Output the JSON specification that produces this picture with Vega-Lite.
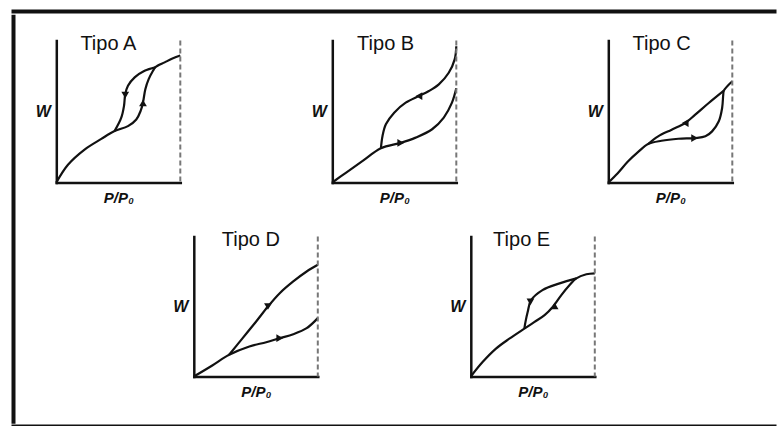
{
  "$schema": "https://vega.github.io/schema/vega-lite/v6.json",
  "padding": {"left": 11, "top": 9, "right": 0, "bottom": 0},
  "background": "white",
  "datasets": {
    "curves": [
      {"panel": "A", "branch": "ads", "i": 0, "x": 0, "y": 0},
      {"panel": "A", "branch": "ads", "i": 1, "x": 0.094, "y": 0.125},
      {"panel": "A", "branch": "ads", "i": 2, "x": 0.228, "y": 0.232},
      {"panel": "A", "branch": "ads", "i": 3, "x": 0.363, "y": 0.307},
      {"panel": "A", "branch": "ads", "i": 4, "x": 0.47, "y": 0.362},
      {"panel": "A", "branch": "ads", "i": 5, "x": 0.578, "y": 0.397},
      {"panel": "A", "branch": "ads", "i": 6, "x": 0.645, "y": 0.444},
      {"panel": "A", "branch": "ads", "i": 7, "x": 0.68, "y": 0.504},
      {"panel": "A", "branch": "ads", "i": 8, "x": 0.699, "y": 0.563},
      {"panel": "A", "branch": "ads", "i": 9, "x": 0.718, "y": 0.657},
      {"panel": "A", "branch": "ads", "i": 10, "x": 0.745, "y": 0.728},
      {"panel": "A", "branch": "ads", "i": 11, "x": 0.78, "y": 0.787},
      {"panel": "A", "branch": "ads", "i": 12, "x": 0.798, "y": 0.811},
      {"panel": "A", "branch": "ads", "i": 13, "x": 0.874, "y": 0.846},
      {"panel": "A", "branch": "ads", "i": 14, "x": 0.941, "y": 0.875},
      {"panel": "A", "branch": "ads", "i": 15, "x": 1, "y": 0.894},
      {"panel": "A", "branch": "des", "i": 0, "x": 0.798, "y": 0.811},
      {"panel": "A", "branch": "des", "i": 1, "x": 0.712, "y": 0.787},
      {"panel": "A", "branch": "des", "i": 2, "x": 0.632, "y": 0.74},
      {"panel": "A", "branch": "des", "i": 3, "x": 0.578, "y": 0.681},
      {"panel": "A", "branch": "des", "i": 4, "x": 0.556, "y": 0.622},
      {"panel": "A", "branch": "des", "i": 5, "x": 0.546, "y": 0.539},
      {"panel": "A", "branch": "des", "i": 6, "x": 0.524, "y": 0.456},
      {"panel": "A", "branch": "des", "i": 7, "x": 0.47, "y": 0.362},

      {"panel": "B", "branch": "ads", "i": 0, "x": 0, "y": 0},
      {"panel": "B", "branch": "ads", "i": 1, "x": 0.112, "y": 0.07},
      {"panel": "B", "branch": "ads", "i": 2, "x": 0.245, "y": 0.152},
      {"panel": "B", "branch": "ads", "i": 3, "x": 0.392, "y": 0.241},
      {"panel": "B", "branch": "ads", "i": 4, "x": 0.552, "y": 0.279},
      {"panel": "B", "branch": "ads", "i": 5, "x": 0.672, "y": 0.316},
      {"panel": "B", "branch": "ads", "i": 6, "x": 0.805, "y": 0.375},
      {"panel": "B", "branch": "ads", "i": 7, "x": 0.899, "y": 0.457},
      {"panel": "B", "branch": "ads", "i": 8, "x": 0.965, "y": 0.562},
      {"panel": "B", "branch": "ads", "i": 9, "x": 1, "y": 0.663},
      {"panel": "B", "branch": "des", "i": 0, "x": 1, "y": 0.96},
      {"panel": "B", "branch": "des", "i": 1, "x": 0.987, "y": 0.867},
      {"panel": "B", "branch": "des", "i": 2, "x": 0.939, "y": 0.773},
      {"panel": "B", "branch": "des", "i": 3, "x": 0.859, "y": 0.691},
      {"panel": "B", "branch": "des", "i": 4, "x": 0.779, "y": 0.644},
      {"panel": "B", "branch": "des", "i": 5, "x": 0.699, "y": 0.609},
      {"panel": "B", "branch": "des", "i": 6, "x": 0.592, "y": 0.562},
      {"panel": "B", "branch": "des", "i": 7, "x": 0.499, "y": 0.492},
      {"panel": "B", "branch": "des", "i": 8, "x": 0.432, "y": 0.41},
      {"panel": "B", "branch": "des", "i": 9, "x": 0.405, "y": 0.328},
      {"panel": "B", "branch": "des", "i": 10, "x": 0.392, "y": 0.241},

      {"panel": "C", "branch": "ads", "i": 0, "x": 0, "y": 0},
      {"panel": "C", "branch": "ads", "i": 1, "x": 0.076, "y": 0.066},
      {"panel": "C", "branch": "ads", "i": 2, "x": 0.158, "y": 0.148},
      {"panel": "C", "branch": "ads", "i": 3, "x": 0.239, "y": 0.214},
      {"panel": "C", "branch": "ads", "i": 4, "x": 0.321, "y": 0.271},
      {"panel": "C", "branch": "ads", "i": 5, "x": 0.429, "y": 0.294},
      {"panel": "C", "branch": "ads", "i": 6, "x": 0.565, "y": 0.308},
      {"panel": "C", "branch": "ads", "i": 7, "x": 0.701, "y": 0.313},
      {"panel": "C", "branch": "ads", "i": 8, "x": 0.783, "y": 0.325},
      {"panel": "C", "branch": "ads", "i": 9, "x": 0.837, "y": 0.36},
      {"panel": "C", "branch": "ads", "i": 10, "x": 0.891, "y": 0.431},
      {"panel": "C", "branch": "ads", "i": 11, "x": 0.918, "y": 0.525},
      {"panel": "C", "branch": "ads", "i": 12, "x": 0.927, "y": 0.619},
      {"panel": "C", "branch": "ads", "i": 13, "x": 0.932, "y": 0.647},
      {"panel": "C", "branch": "ads", "i": 14, "x": 1, "y": 0.713},
      {"panel": "C", "branch": "des", "i": 0, "x": 0.932, "y": 0.647},
      {"panel": "C", "branch": "des", "i": 1, "x": 0.81, "y": 0.56},
      {"panel": "C", "branch": "des", "i": 2, "x": 0.701, "y": 0.478},
      {"panel": "C", "branch": "des", "i": 3, "x": 0.62, "y": 0.419},
      {"panel": "C", "branch": "des", "i": 4, "x": 0.511, "y": 0.372},
      {"panel": "C", "branch": "des", "i": 5, "x": 0.402, "y": 0.325},
      {"panel": "C", "branch": "des", "i": 6, "x": 0.321, "y": 0.271},

      {"panel": "D", "branch": "ads", "i": 0, "x": 0, "y": 0},
      {"panel": "D", "branch": "ads", "i": 1, "x": 0.149, "y": 0.079},
      {"panel": "D", "branch": "ads", "i": 2, "x": 0.285, "y": 0.155},
      {"panel": "D", "branch": "ads", "i": 3, "x": 0.448, "y": 0.214},
      {"panel": "D", "branch": "ads", "i": 4, "x": 0.584, "y": 0.245},
      {"panel": "D", "branch": "ads", "i": 5, "x": 0.693, "y": 0.274},
      {"panel": "D", "branch": "ads", "i": 6, "x": 0.802, "y": 0.302},
      {"panel": "D", "branch": "ads", "i": 7, "x": 0.91, "y": 0.345},
      {"panel": "D", "branch": "ads", "i": 8, "x": 1, "y": 0.417},
      {"panel": "D", "branch": "des", "i": 0, "x": 1, "y": 0.798},
      {"panel": "D", "branch": "des", "i": 1, "x": 0.91, "y": 0.75},
      {"panel": "D", "branch": "des", "i": 2, "x": 0.802, "y": 0.679},
      {"panel": "D", "branch": "des", "i": 3, "x": 0.693, "y": 0.595},
      {"panel": "D", "branch": "des", "i": 4, "x": 0.598, "y": 0.5},
      {"panel": "D", "branch": "des", "i": 5, "x": 0.503, "y": 0.393},
      {"panel": "D", "branch": "des", "i": 6, "x": 0.394, "y": 0.274},
      {"panel": "D", "branch": "des", "i": 7, "x": 0.285, "y": 0.155},

      {"panel": "E", "branch": "ads", "i": 0, "x": 0, "y": 0},
      {"panel": "E", "branch": "ads", "i": 1, "x": 0.095, "y": 0.103},
      {"panel": "E", "branch": "ads", "i": 2, "x": 0.203, "y": 0.199},
      {"panel": "E", "branch": "ads", "i": 3, "x": 0.311, "y": 0.27},
      {"panel": "E", "branch": "ads", "i": 4, "x": 0.432, "y": 0.342},
      {"panel": "E", "branch": "ads", "i": 5, "x": 0.514, "y": 0.39},
      {"panel": "E", "branch": "ads", "i": 6, "x": 0.595, "y": 0.438},
      {"panel": "E", "branch": "ads", "i": 7, "x": 0.662, "y": 0.498},
      {"panel": "E", "branch": "ads", "i": 8, "x": 0.73, "y": 0.581},
      {"panel": "E", "branch": "ads", "i": 9, "x": 0.797, "y": 0.653},
      {"panel": "E", "branch": "ads", "i": 10, "x": 0.851, "y": 0.701},
      {"panel": "E", "branch": "ads", "i": 11, "x": 0.932, "y": 0.73},
      {"panel": "E", "branch": "ads", "i": 12, "x": 1, "y": 0.737},
      {"panel": "E", "branch": "des", "i": 0, "x": 0.851, "y": 0.701},
      {"panel": "E", "branch": "des", "i": 1, "x": 0.716, "y": 0.665},
      {"panel": "E", "branch": "des", "i": 2, "x": 0.578, "y": 0.617},
      {"panel": "E", "branch": "des", "i": 3, "x": 0.486, "y": 0.545},
      {"panel": "E", "branch": "des", "i": 4, "x": 0.459, "y": 0.462},
      {"panel": "E", "branch": "des", "i": 5, "x": 0.441, "y": 0.39},
      {"panel": "E", "branch": "des", "i": 6, "x": 0.432, "y": 0.342}
    ],
    "arrows": [
      {"panel": "A", "x": 0.556, "y": 0.615, "dir": "down"},
      {"panel": "A", "x": 0.699, "y": 0.56, "dir": "up"},
      {"panel": "B", "x": 0.699, "y": 0.609, "dir": "left"},
      {"panel": "B", "x": 0.552, "y": 0.279, "dir": "right"},
      {"panel": "C", "x": 0.62, "y": 0.419, "dir": "left"},
      {"panel": "C", "x": 0.696, "y": 0.313, "dir": "right"},
      {"panel": "D", "x": 0.598, "y": 0.5, "dir": "down"},
      {"panel": "D", "x": 0.693, "y": 0.274, "dir": "right"},
      {"panel": "E", "x": 0.481, "y": 0.533, "dir": "down"},
      {"panel": "E", "x": 0.676, "y": 0.505, "dir": "up"}
    ],
    "labels": [
      {"panel": "A", "x": 0.42, "y": 0.935, "text": "Tipo A"},
      {"panel": "B", "x": 0.43, "y": 0.93, "text": "Tipo B"},
      {"panel": "C", "x": 0.43, "y": 0.93, "text": "Tipo C"},
      {"panel": "D", "x": 0.46, "y": 0.935, "text": "Tipo D"},
      {"panel": "E", "x": 0.41, "y": 0.93, "text": "Tipo E"}
    ]
  },
  "vconcat": [
    {
      "width": 762, "height": 1,
      "view": {"stroke": "#111", "strokeWidth": 3},
      "data": {"values": []},
      "mark": "rule",
      "encoding": {}
    },
    {
      "hconcat": [
        {
          "width": 1, "height": 406,
          "view": {"stroke": "#111", "strokeWidth": 3},
          "data": {"values": []},
          "mark": "rule",
          "encoding": {}
        },
        {
          "vconcat": [
            {
              "hconcat": [
                {
                  "width": 124, "height": 142,
                  "layer": [
                    {"data": {"name": "curves"}, "transform": [{"filter": "datum.panel === 'A'"}],
                     "mark": {"type": "line", "interpolate": "catmull-rom", "color": "#111", "strokeWidth": 2.2},
                     "encoding": {
                       "x": {"field": "x", "type": "quantitative", "scale": {"domain": [0, 1], "nice": false}, "axis": {"title": "P/P₀"}},
                       "y": {"field": "y", "type": "quantitative", "scale": {"domain": [0, 1], "nice": false}, "axis": {"title": "W"}},
                       "detail": {"field": "branch"}, "order": {"field": "i", "type": "quantitative"}}},
                    {"data": {"name": "arrows"}, "transform": [{"filter": "datum.panel === 'A'"}],
                     "mark": {"type": "point", "filled": true, "size": 60, "color": "#111", "opacity": 1},
                     "encoding": {
                       "x": {"field": "x", "type": "quantitative"},
                       "y": {"field": "y", "type": "quantitative"},
                       "shape": {"field": "dir", "type": "nominal", "scale": {"domain": ["up", "down", "left", "right"], "range": ["triangle-up", "triangle-down", "triangle-left", "triangle-right"]}, "legend": null}}},
                    {"data": {"name": "labels"}, "transform": [{"filter": "datum.panel === 'A'"}],
                     "mark": {"type": "rule", "strokeDash": [5, 3], "color": "#777", "strokeWidth": 2},
                     "encoding": {"x": {"datum": 1}}},
                    {"data": {"name": "labels"}, "transform": [{"filter": "datum.panel === 'A'"}],
                     "mark": {"type": "text", "font": "Liberation Sans", "fontSize": 20, "baseline": "alphabetic", "color": "#111"},
                     "encoding": {
                       "x": {"field": "x", "type": "quantitative"},
                       "y": {"field": "y", "type": "quantitative"},
                       "text": {"field": "text"}}}
                  ]
                },
                {
                  "width": 124, "height": 142,
                  "layer": [
                    {"data": {"name": "curves"}, "transform": [{"filter": "datum.panel === 'B'"}],
                     "mark": {"type": "line", "interpolate": "catmull-rom", "color": "#111", "strokeWidth": 2.2},
                     "encoding": {
                       "x": {"field": "x", "type": "quantitative", "scale": {"domain": [0, 1], "nice": false}, "axis": {"title": "P/P₀"}},
                       "y": {"field": "y", "type": "quantitative", "scale": {"domain": [0, 1], "nice": false}, "axis": {"title": "W"}},
                       "detail": {"field": "branch"}, "order": {"field": "i", "type": "quantitative"}}},
                    {"data": {"name": "arrows"}, "transform": [{"filter": "datum.panel === 'B'"}],
                     "mark": {"type": "point", "filled": true, "size": 60, "color": "#111", "opacity": 1},
                     "encoding": {
                       "x": {"field": "x", "type": "quantitative"},
                       "y": {"field": "y", "type": "quantitative"},
                       "shape": {"field": "dir", "type": "nominal", "scale": {"domain": ["up", "down", "left", "right"], "range": ["triangle-up", "triangle-down", "triangle-left", "triangle-right"]}, "legend": null}}},
                    {"data": {"name": "labels"}, "transform": [{"filter": "datum.panel === 'B'"}],
                     "mark": {"type": "rule", "strokeDash": [5, 3], "color": "#777", "strokeWidth": 2},
                     "encoding": {"x": {"datum": 1}}},
                    {"data": {"name": "labels"}, "transform": [{"filter": "datum.panel === 'B'"}],
                     "mark": {"type": "text", "font": "Liberation Sans", "fontSize": 20, "baseline": "alphabetic", "color": "#111"},
                     "encoding": {
                       "x": {"field": "x", "type": "quantitative"},
                       "y": {"field": "y", "type": "quantitative"},
                       "text": {"field": "text"}}}
                  ]
                },
                {
                  "width": 124, "height": 142,
                  "layer": [
                    {"data": {"name": "curves"}, "transform": [{"filter": "datum.panel === 'C'"}],
                     "mark": {"type": "line", "interpolate": "catmull-rom", "color": "#111", "strokeWidth": 2.2},
                     "encoding": {
                       "x": {"field": "x", "type": "quantitative", "scale": {"domain": [0, 1], "nice": false}, "axis": {"title": "P/P₀"}},
                       "y": {"field": "y", "type": "quantitative", "scale": {"domain": [0, 1], "nice": false}, "axis": {"title": "W"}},
                       "detail": {"field": "branch"}, "order": {"field": "i", "type": "quantitative"}}},
                    {"data": {"name": "arrows"}, "transform": [{"filter": "datum.panel === 'C'"}],
                     "mark": {"type": "point", "filled": true, "size": 60, "color": "#111", "opacity": 1},
                     "encoding": {
                       "x": {"field": "x", "type": "quantitative"},
                       "y": {"field": "y", "type": "quantitative"},
                       "shape": {"field": "dir", "type": "nominal", "scale": {"domain": ["up", "down", "left", "right"], "range": ["triangle-up", "triangle-down", "triangle-left", "triangle-right"]}, "legend": null}}},
                    {"data": {"name": "labels"}, "transform": [{"filter": "datum.panel === 'C'"}],
                     "mark": {"type": "rule", "strokeDash": [5, 3], "color": "#777", "strokeWidth": 2},
                     "encoding": {"x": {"datum": 1}}},
                    {"data": {"name": "labels"}, "transform": [{"filter": "datum.panel === 'C'"}],
                     "mark": {"type": "text", "font": "Liberation Sans", "fontSize": 20, "baseline": "alphabetic", "color": "#111"},
                     "encoding": {
                       "x": {"field": "x", "type": "quantitative"},
                       "y": {"field": "y", "type": "quantitative"},
                       "text": {"field": "text"}}}
                  ]
                }
              ],
              "spacing": 152,
              "bounds": "flush"
            },
            {
              "hconcat": [
                {
                  "width": 124, "height": 140,
                  "layer": [
                    {"data": {"name": "curves"}, "transform": [{"filter": "datum.panel === 'D'"}],
                     "mark": {"type": "line", "interpolate": "catmull-rom", "color": "#111", "strokeWidth": 2.2},
                     "encoding": {
                       "x": {"field": "x", "type": "quantitative", "scale": {"domain": [0, 1], "nice": false}, "axis": {"title": "P/P₀"}},
                       "y": {"field": "y", "type": "quantitative", "scale": {"domain": [0, 1], "nice": false}, "axis": {"title": "W"}},
                       "detail": {"field": "branch"}, "order": {"field": "i", "type": "quantitative"}}},
                    {"data": {"name": "arrows"}, "transform": [{"filter": "datum.panel === 'D'"}],
                     "mark": {"type": "point", "filled": true, "size": 60, "color": "#111", "opacity": 1},
                     "encoding": {
                       "x": {"field": "x", "type": "quantitative"},
                       "y": {"field": "y", "type": "quantitative"},
                       "shape": {"field": "dir", "type": "nominal", "scale": {"domain": ["up", "down", "left", "right"], "range": ["triangle-up", "triangle-down", "triangle-left", "triangle-right"]}, "legend": null}}},
                    {"data": {"name": "labels"}, "transform": [{"filter": "datum.panel === 'D'"}],
                     "mark": {"type": "rule", "strokeDash": [5, 3], "color": "#777", "strokeWidth": 2},
                     "encoding": {"x": {"datum": 1}}},
                    {"data": {"name": "labels"}, "transform": [{"filter": "datum.panel === 'D'"}],
                     "mark": {"type": "text", "font": "Liberation Sans", "fontSize": 20, "baseline": "alphabetic", "color": "#111"},
                     "encoding": {
                       "x": {"field": "x", "type": "quantitative"},
                       "y": {"field": "y", "type": "quantitative"},
                       "text": {"field": "text"}}}
                  ]
                },
                {
                  "width": 124, "height": 140,
                  "layer": [
                    {"data": {"name": "curves"}, "transform": [{"filter": "datum.panel === 'E'"}],
                     "mark": {"type": "line", "interpolate": "catmull-rom", "color": "#111", "strokeWidth": 2.2},
                     "encoding": {
                       "x": {"field": "x", "type": "quantitative", "scale": {"domain": [0, 1], "nice": false}, "axis": {"title": "P/P₀"}},
                       "y": {"field": "y", "type": "quantitative", "scale": {"domain": [0, 1], "nice": false}, "axis": {"title": "W"}},
                       "detail": {"field": "branch"}, "order": {"field": "i", "type": "quantitative"}}},
                    {"data": {"name": "arrows"}, "transform": [{"filter": "datum.panel === 'E'"}],
                     "mark": {"type": "point", "filled": true, "size": 60, "color": "#111", "opacity": 1},
                     "encoding": {
                       "x": {"field": "x", "type": "quantitative"},
                       "y": {"field": "y", "type": "quantitative"},
                       "shape": {"field": "dir", "type": "nominal", "scale": {"domain": ["up", "down", "left", "right"], "range": ["triangle-up", "triangle-down", "triangle-left", "triangle-right"]}, "legend": null}}},
                    {"data": {"name": "labels"}, "transform": [{"filter": "datum.panel === 'E'"}],
                     "mark": {"type": "rule", "strokeDash": [5, 3], "color": "#777", "strokeWidth": 2},
                     "encoding": {"x": {"datum": 1}}},
                    {"data": {"name": "labels"}, "transform": [{"filter": "datum.panel === 'E'"}],
                     "mark": {"type": "text", "font": "Liberation Sans", "fontSize": 20, "baseline": "alphabetic", "color": "#111"},
                     "encoding": {
                       "x": {"field": "x", "type": "quantitative"},
                       "y": {"field": "y", "type": "quantitative"},
                       "text": {"field": "text"}}}
                  ]
                }
              ],
              "spacing": 153,
              "bounds": "flush"
            }
          ],
          "spacing": 24,
          "center": true
        }
      ],
      "spacing": 19,
      "center": true
    },
    {
      "width": 762, "height": 1,
      "view": {"stroke": "#111", "strokeWidth": 3},
      "data": {"values": []},
      "mark": "rule",
      "encoding": {}
    }
  ],
  "spacing": 0,
  "config": {
    "view": {"stroke": null},
    "axis": {
      "domainColor": "#111", "domainWidth": 2.5, "domainCap": "square",
      "ticks": false, "labels": false, "grid": false,
      "titleFont": "Liberation Sans", "titleFontSize": 15, "titleFontStyle": "italic", "titleFontWeight": "bold", "titleColor": "#111"
    },
    "axisY": {"titleAngle": 0, "titlePadding": 6, "titleAlign": "right", "titleBaseline": "middle", "titleFontSize": 16},
    "axisX": {"titlePadding": 8}
  }
}
